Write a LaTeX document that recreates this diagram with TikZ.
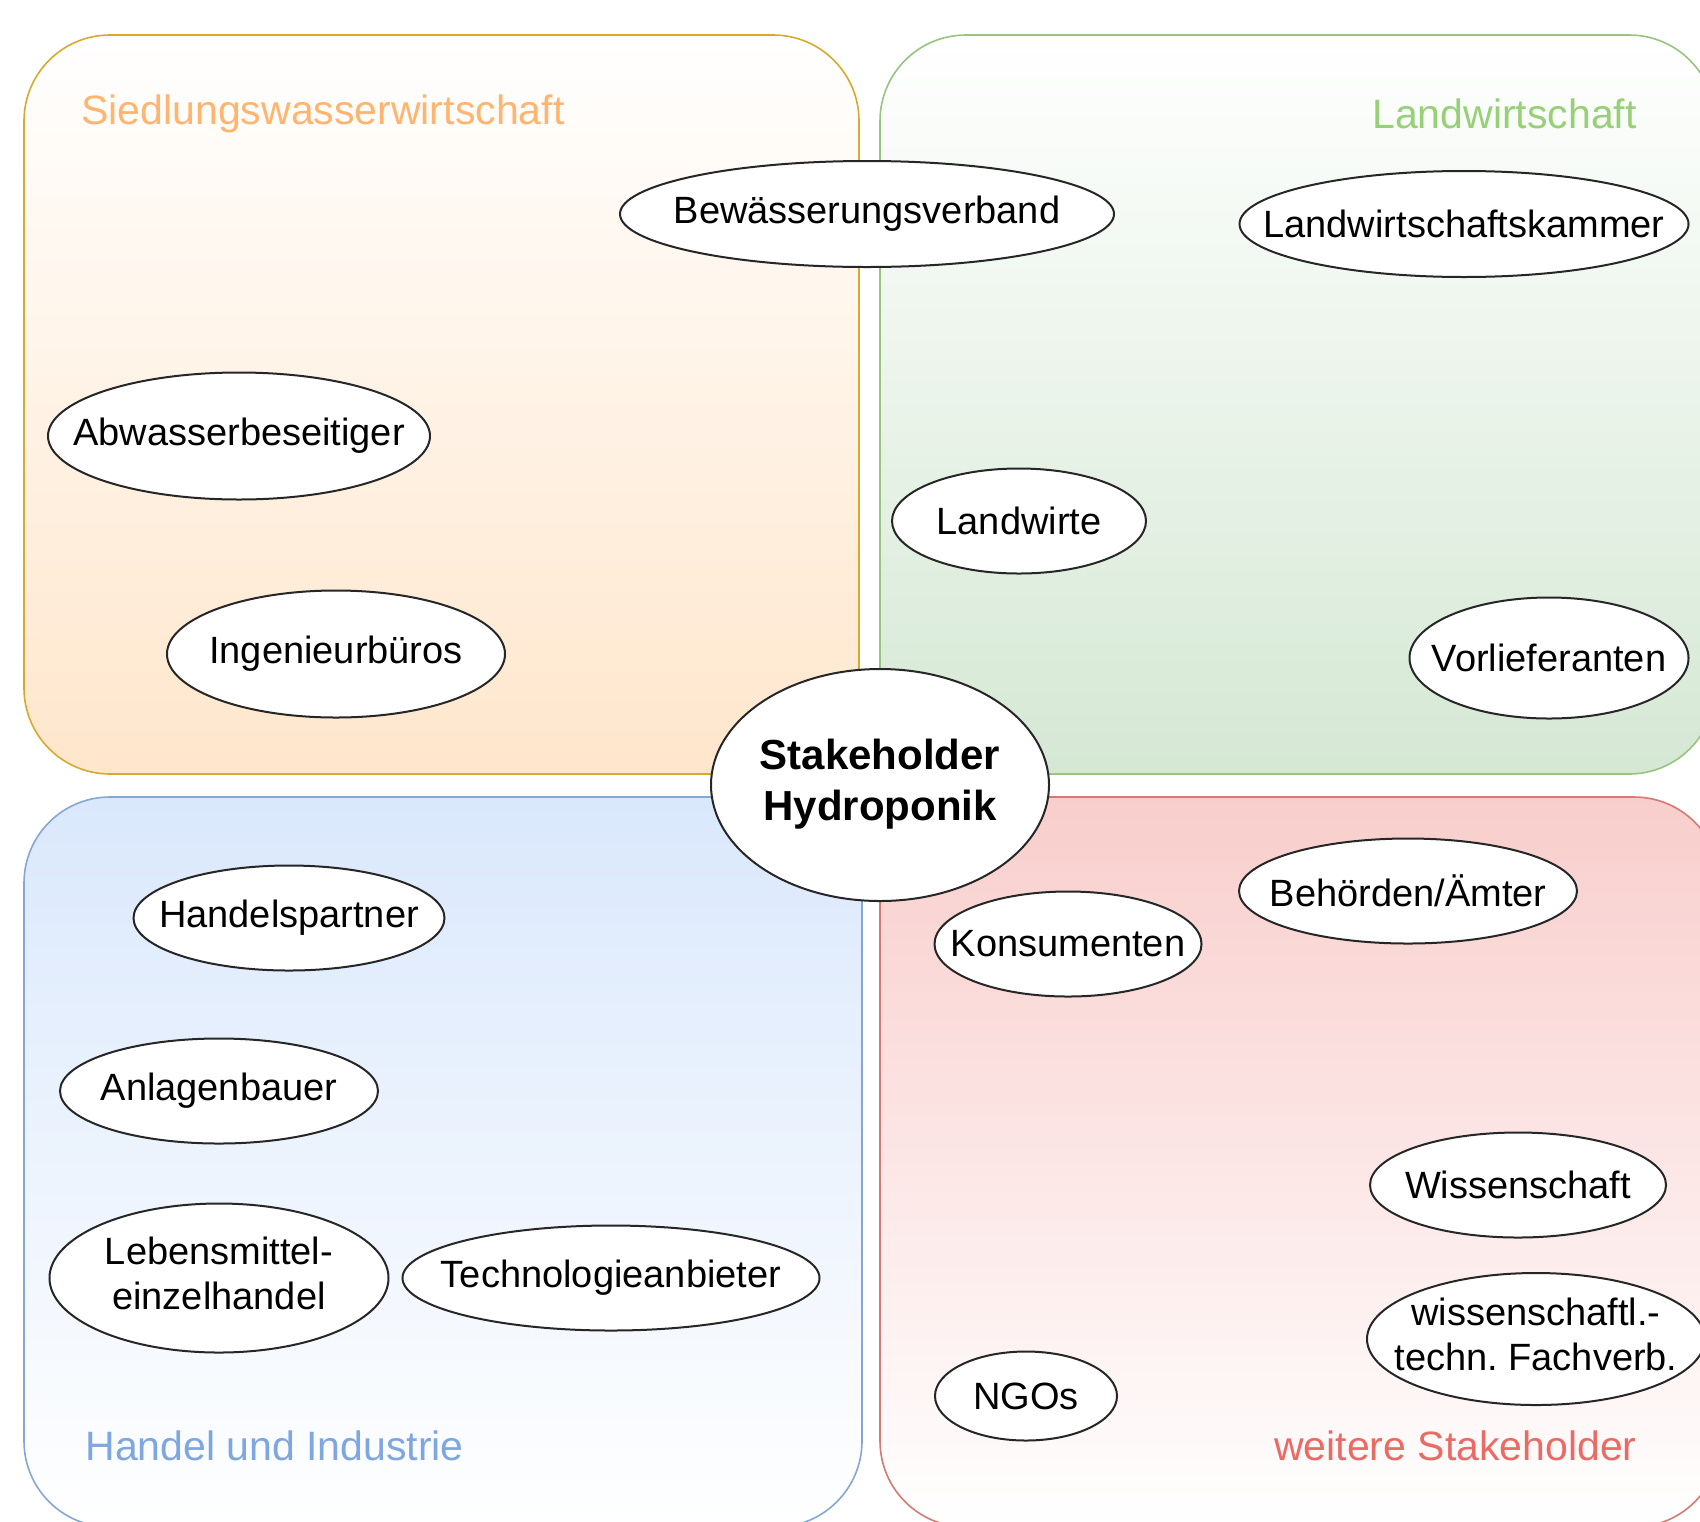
\documentclass[tikz,border=0pt]{standalone}
\usepackage{fontspec}
\setmainfont{Liberation Sans}
\usetikzlibrary{shapes.geometric}

\definecolor{orangeline}{HTML}{D9A92E}
\definecolor{orangefill}{HTML}{FFE6CC}
\definecolor{orangetext}{HTML}{FFB570}
\definecolor{greenline}{HTML}{97C47F}
\definecolor{greenfill}{HTML}{D5E8D4}
\definecolor{greentext}{HTML}{97D077}
\definecolor{blueline}{HTML}{86A7D6}
\definecolor{bluefill}{HTML}{DAE8FC}
\definecolor{bluetext}{HTML}{7EA6E0}
\definecolor{redline}{HTML}{D47A76}
\definecolor{redfill}{HTML}{F8CECC}
\definecolor{redtext}{HTML}{EA6B66}

% text of zero width, so the ellipse keeps the size given to it
\newcommand{\stk}[1]{\makebox[0pt]{#1}}
\newcommand{\stkk}[2]{\makebox[0pt]{\begin{tabular}{@{}c@{}}#1\\#2\end{tabular}}}

% one unit = one pixel = 0.5pt, so sizes below are given in pt (pixels/2)
\tikzset{
  field/.style={rounded corners=43pt, line width=0.8pt},
  fieldtitle/.style={font=\fontsize{20.5}{24}\selectfont, inner sep=0pt},
  stake/.style={ellipse, draw=black!85, fill=white, line width=1pt, inner sep=0pt,
    font=\fontsize{19}{22.3}\selectfont,
    minimum height=52.5pt, minimum width=#1},
  stake/.default=150pt
}

\begin{document}
\begin{tikzpicture}[x=0.5pt, y=-0.5pt]
    \useasboundingbox (0,0) rectangle (1700,1521);
    \clip (0,0) rectangle (1700,1521);
    % Quadrants
    \shade[field, draw=orangeline, top color=white, bottom color=orangefill] (24,35) rectangle (859,774);
    \shade[field, draw=greenline, top color=white, bottom color=greenfill] (880,35) rectangle (1715,774);
    \shade[field, draw=blueline, top color=bluefill, bottom color=white] (24,797) rectangle (862,1527);
    \shade[field, draw=redline, top color=redfill, bottom color=white] (880,797) rectangle (1720,1527);
    \node[fieldtitle, orangetext, anchor=west] (siedlung) at (81,114) {Siedlungswasserwirtschaft};
    \node[fieldtitle, greentext, anchor=east] (landwirtschaft) at (1637,114) {Landwirtschaft};
    \node[fieldtitle, bluetext, anchor=west] (handel) at (85,1446) {Handel und Industrie};
    \node[fieldtitle, redtext, anchor=east] (weitere) at (1637,1446) {weitere Stakeholder};
    % Siedlungswasserwirtschaft
    \node[stake=247pt, minimum height=53pt] (bewverband) at (867,214) {\stk{Bewässerungsverband}};
    \node[stake=191pt, minimum height=63.5pt] (abwasser) at (239,436) {\stk{Abwasserbeseitiger}};
    \node[stake=169pt, minimum height=63.5pt] (ingenieur) at (336,654) {\stk{Ingenieurbüros}};
    % Landwirtschaft
    \node[stake=224.5pt, minimum height=53pt] (lwkammer) at (1464,224) {\stk{Landwirtschaftskammer}};
    \node[stake=127pt] (landwirte) at (1019,521) {\stk{Landwirte}};
    \node[stake=139.5pt, minimum height=60.5pt] (vorlief) at (1549,658) {\stk{Vorlieferanten}};
    % Handel und Industrie
    \node[stake=155.5pt] (handelsp) at (289,918) {\stk{Handelspartner}};
    \node[stake=159pt] (anlagen) at (219,1091) {\stk{Anlagenbauer}};
    \node[stake=169.5pt, minimum height=74.5pt] (lebensm) at (219,1278) {\stkk{Lebensmittel-}{einzelhandel}};
    \node[stake=208.5pt] (technologie) at (611,1278) {\stk{Technologieanbieter}};
    % weitere Stakeholder
    \node[stake=133.5pt] (konsum) at (1068,944) {\stk{Konsumenten}};
    \node[stake=169pt] (behoerden) at (1408,891) {\stk{Behörden/Ämter}};
    \node[stake=148pt] (wissen) at (1518,1185) {\stk{Wissenschaft}};
    \node[stake=169pt, minimum height=66pt] (fachverb) at (1536,1339) {\stkk{wissenschaftl.-}{techn.\ Fachverb.}};
    \node[stake=91pt, minimum height=44.5pt] (ngos) at (1026,1396) {\stk{NGOs}};
    % Mitte
    \node[stake=169pt, minimum height=116pt, font=\fontsize{21}{25.5}\selectfont\bfseries] (hydro) at (880,785) {\stkk{Stakeholder}{Hydroponik}};
\end{tikzpicture}
\end{document}
